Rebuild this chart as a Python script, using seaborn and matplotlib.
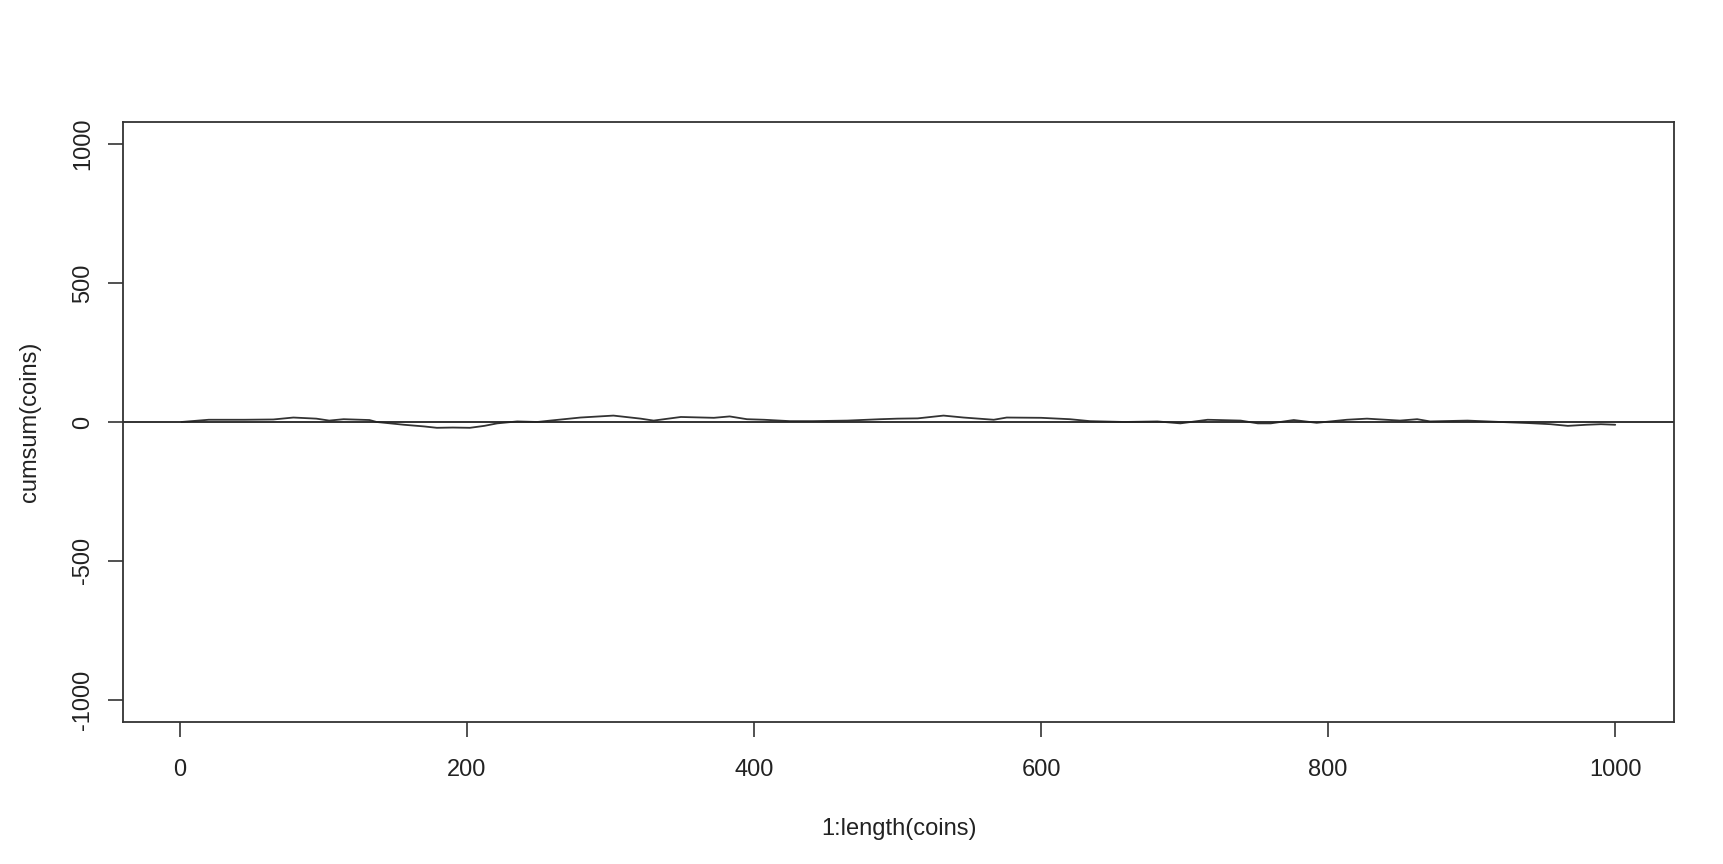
import numpy as np
import pandas as pd
import seaborn as sns
import matplotlib.pyplot as plt

# positions along the walk and the running total
step = [1, 20, 45, 65, 79, 95, 104, 114, 132, 137, 156, 170, 179, 190, 202, 212, 221, 235,
        249, 258, 279, 302, 321, 330, 349, 372, 383, 395, 407, 425, 441, 465, 488, 500,
        514, 532, 546, 567, 576, 600, 620, 634, 658, 681, 697, 716, 739, 751, 760, 776,
        792, 813, 827, 850, 862, 871, 897, 920, 940, 955, 967, 980, 990, 1000]
total = [0, 8, 8, 9, 16, 12, 5, 10, 7, 0, -10, -16, -21, -20, -21, -14, -5, 2,
         0, 5, 16, 23, 12, 5, 18, 15, 20, 10, 8, 3, 3, 5, 10, 12,
         13, 23, 16, 8, 16, 15, 10, 3, 0, 2, -5, 8, 5, -5, -5, 7,
         -3, 8, 12, 5, 10, 2, 5, 0, -4, -8, -14, -10, -8, -10]

x_ticks = [0, 200, 400, 600, 800, 1000]
y_ticks = [-1000, -500, 0, 500, 1000]

df = pd.DataFrame({'step': step, 'total': total})

sns.set_style('ticks')
plt.rcParams['font.family'] = ['Liberation Sans', 'DejaVu Sans']

fig = plt.figure(figsize=(17.23, 8.64), dpi=100)
ax = fig.add_axes([0.0714, 0.1644, 0.9002, 0.6944])

sns.lineplot(data=df, x='step', y='total', color='#333333', linewidth=1.3, ax=ax)
ax.axhline(0, color='#222222', linewidth=1.3)

ax.set_xlim(-39.7, 1041)
ax.set_ylim(-1080, 1080)
ax.set_xticks(x_ticks)
ax.set_yticks(y_ticks)
ax.set_xticklabels([str(t) for t in x_ticks], fontsize=17, color='#222222')
ax.set_yticklabels([str(t) for t in y_ticks], fontsize=17, color='#222222',
                   rotation=90, va='center')
ax.tick_params(direction='out', length=11, width=1.2, color='#333333', pad=10)
ax.tick_params(axis='x', pad=16)

for s in ax.spines.values():
    s.set_visible(True)
    s.set_color('#333333')
    s.set_linewidth(1.3)

ax.set_xlabel('1:length(coins)', fontsize=17, color='#222222', labelpad=26)
ax.set_ylabel('cumsum(coins)', fontsize=17, color='#222222', labelpad=22)

plt.savefig('out.png', dpi=100, facecolor='white')
